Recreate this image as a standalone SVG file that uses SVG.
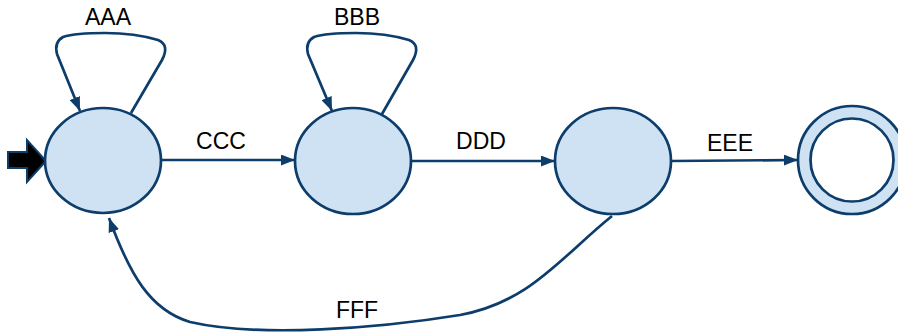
<svg xmlns="http://www.w3.org/2000/svg" width="898" height="333" viewBox="0 0 898 333">
<defs>
<marker id="ah" viewBox="0 0 14 11" refX="14" refY="5.5" markerWidth="14" markerHeight="11" markerUnits="userSpaceOnUse" orient="auto">
<path d="M0,0 L14,5.5 L0,11 Z" fill="#0c3d6b"/>
</marker>
</defs>
<style>
.node{fill:#cfe2f3;stroke:#0c3d6b;stroke-width:2.7}
.inner{fill:#ffffff;stroke:#0c3d6b;stroke-width:2.7}
.edge{fill:none;stroke:#0c3d6b;stroke-width:2.7;marker-end:url(#ah)}
.lbl{font-family:"Liberation Sans",Arial,sans-serif;font-size:23px;fill:#000;text-anchor:middle}
</style>
<g id="start">
<path d="M8,152 L27,152 L27,140 L46,161 L27,182 L27,168 L8,168 Z" fill="#000" stroke="#0c3d6b" stroke-width="2"/>
</g>
<g id="connectors">
<path class="edge" d="M131,113 L162,60 Q170,45 158,40 Q135,33 105,33 Q75,33 63,37 Q54,42 57,54 L80,111"/>
<path class="edge" d="M382,114 L413,60 Q421,45 409,40 Q386,33 356,33 Q326,33 314,37 Q305,42 308,54 L332,111"/>
<path class="edge" d="M161,160 L295,160"/>
<path class="edge" d="M411,161 L555,161"/>
<path class="edge" d="M671,161 L798,160"/>
<path class="edge" d="M612,216 C560,258 530,302 460,315 C380,328 260,338 190,322 C150,310 130,275 109,218"/>
</g>
<g id="n1"><ellipse class="node" cx="103" cy="160.5" rx="58" ry="52.5"/></g>
<g id="n2"><ellipse class="node" cx="353" cy="161" rx="58" ry="53"/></g>
<g id="n3"><ellipse class="node" cx="613" cy="161" rx="58" ry="53"/></g>
<g id="n4"><circle class="node" cx="852" cy="160" r="54"/><circle class="inner" cx="852" cy="160" r="41.5"/></g>
<g id="labels">
<text class="lbl" x="108" y="25">AAA</text>
<text class="lbl" x="357" y="25">BBB</text>
<text class="lbl" x="221" y="149">CCC</text>
<text class="lbl" x="481" y="149">DDD</text>
<text class="lbl" x="730" y="151">EEE</text>
<text class="lbl" x="357" y="318">FFF</text>
</g>
</svg>
